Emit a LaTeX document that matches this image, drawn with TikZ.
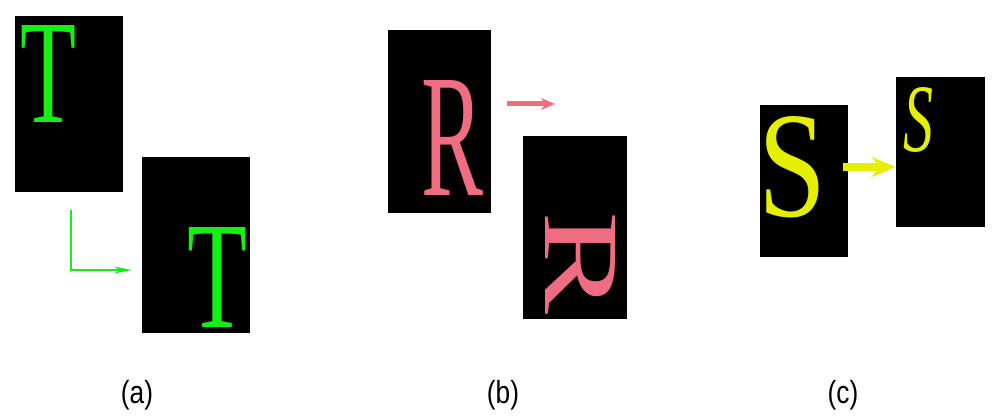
\documentclass[tikz,border=0pt]{standalone}
\usepackage{fontspec}
\setmainfont{Liberation Serif}
\newfontfamily\labfont{Liberation Sans}
\usepackage{graphicx}
\usepackage{xcolor}
\usetikzlibrary{arrows.meta}
\definecolor{tgreen}{RGB}{20,240,20}
\definecolor{rpink}{RGB}{240,108,128}
\definecolor{syellow}{RGB}{228,240,0}
\newcommand{\glyph}[3]{\resizebox{#1}{#2}{#3}}

\begin{document}
\begin{tikzpicture}[x=0.5pt,y=-0.5pt,
  panel/.style={rectangle,fill=black,inner sep=0pt},
  letter/.style={inner sep=0pt},
  caption/.style={inner sep=0pt,font=\labfont\fontsize{16}{16}\selectfont}
]
\useasboundingbox[fill=white] (0,0) rectangle (992,416);

% (a) translation
\node[panel,minimum width=54pt,minimum height=88pt] (a1) at (69,104) {};
\node[panel,minimum width=54pt,minimum height=88pt] (a2) at (196,245) {};
\node[letter,text=tgreen] (ta1) at (48.5,73.5) {\glyph{28pt}{48.5pt}{T}};
\node[letter,text=tgreen] (ta2) at (218,277) {\glyph{30pt}{50pt}{T}};
\coordinate (ls) at (71,210);
\coordinate (le) at (132,270);
\draw[-{Stealth[length=9pt,width=3.5pt]},tgreen,line width=1pt] (ls) |- (le);

% (b) rotation
\node[panel,minimum width=51.5pt,minimum height=91.5pt] (b1) at (439.5,121.5) {};
\node[panel,minimum width=52pt,minimum height=91.5pt] (b2) at (575,227.5) {};
\node[letter,text=rpink] (rb1) at (452,137.5) {\glyph{31pt}{57.5pt}{R}};
\node[letter,text=rpink] (rb2) at (581,263) {\rotatebox{-90}{\glyph{51.5pt}{35pt}{R}}};
\coordinate (rs) at (507,104);
\coordinate (re) at (555,104);
\draw[-{Stealth[length=7pt,width=6pt]},rpink,line width=2.5pt] (rs) -- (re);

% (c) scaling
\node[panel,minimum width=44pt,minimum height=76pt] (c1) at (804,181) {};
\node[panel,minimum width=44.5pt,minimum height=75pt] (c2) at (940.5,152) {};
\node[letter,text=syellow] (sc1) at (793,167) {\glyph{34pt}{50pt}{S}};
\node[letter,text=syellow] (sc2) at (918,120) {\glyph{15pt}{32pt}{\itshape S}};
\coordinate (ss) at (843,167);
\draw[-{Stealth[length=12pt,width=10pt]},syellow,line width=4pt] (ss) -- (ss -| c2.west);

\node[caption] (capa) at (137,395) {\scalebox{0.82}[1]{(a)}};
\node[caption] (capb) at (503,395) {\scalebox{0.82}[1]{(b)}};
\node[caption] (capc) at (843,395) {\scalebox{0.82}[1]{(c)}};
\end{tikzpicture}
\end{document}
